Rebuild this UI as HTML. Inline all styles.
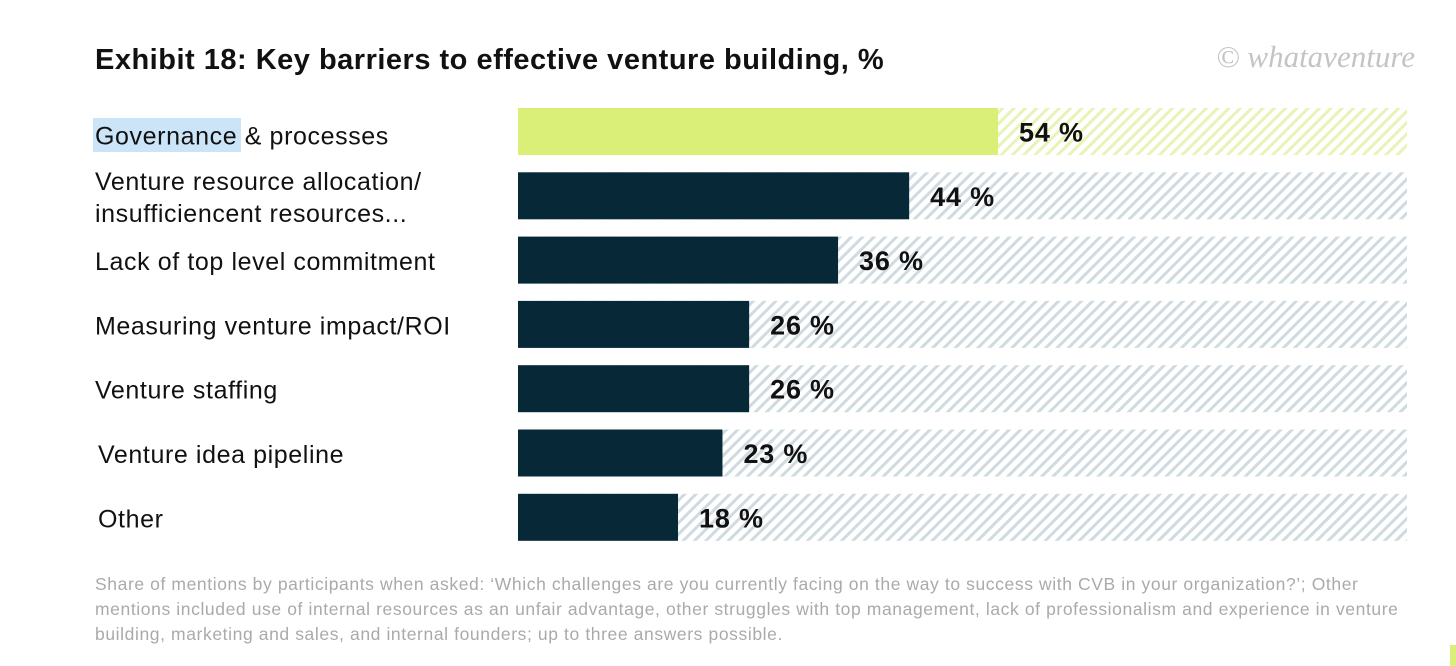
<!DOCTYPE html>
<html><head><meta charset="utf-8"><style>
html,body{margin:0;padding:0;background:#fff;}
svg{display:block;}
</style></head><body>
<svg width="1456" height="666" viewBox="0 0 1456 666" xmlns="http://www.w3.org/2000/svg">
<defs>
<pattern id="hg" patternUnits="userSpaceOnUse" width="8" height="8" patternTransform="rotate(45)">
<rect width="8" height="8" fill="#fff"/><rect width="3" height="8" fill="#e8f3b8"/></pattern>
<pattern id="hb" patternUnits="userSpaceOnUse" width="8" height="8" patternTransform="rotate(45)">
<rect width="8" height="8" fill="#fff"/><rect width="3" height="8" fill="#cfdbe0"/></pattern>
</defs>
<text x="95" y="69" font-family="Liberation Sans, sans-serif" font-size="29" font-weight="bold" letter-spacing="0.5" fill="#111">Exhibit 18: Key barriers to effective venture building, %</text>
<text x="1415" y="67" text-anchor="end" font-family="Liberation Serif, serif" font-style="italic" font-size="31" fill="#c4c4c4">© whataventure</text>
<rect x="93" y="118" width="148" height="34" fill="#cce4f7"/>
<g id="bars"></g>
<g font-family="Liberation Sans, sans-serif" font-size="17.5" letter-spacing="0.6" fill="#aaaaaa">
<text x="95" y="590">Share of mentions by participants when asked: ‘Which challenges are you currently facing on the way to success with CVB in your organization?’; Other</text>
<text x="95" y="615">mentions included use of internal resources as an unfair advantage, other struggles with top management, lack of professionalism and experience in venture</text>
<text x="95" y="640">building, marketing and sales, and internal founders; up to three answers possible.</text>
</g>
<rect x="1450" y="645" width="6" height="21" fill="#d9ef77"/>
</svg>
<script>
const categories = [["Governance & processes"],["Venture resource allocation/","insufficiencent resources..."],["Lack of top level commitment"],["Measuring venture impact/ROI"],["Venture staffing"],["Venture idea pipeline"],["Other"]];
const values = [54,44,36,26,26,23,18];
const valueLabels = ["54 %","44 %","36 %","26 %","26 %","23 %","18 %"];

const NS="http://www.w3.org/2000/svg";
const g=document.getElementById('bars');
const x0=518, xw=889, yTop=108, step=64.3, bh=47;
const xScale=v=>x0+v/100*xw;
const yScale=i=>yTop+i*step;
function mk(tag,attrs){const e=document.createElementNS(NS,tag);for(const k in attrs)e.setAttribute(k,attrs[k]);g.appendChild(e);return e;}
values.forEach((v,i)=>{
  const y=yScale(i), hl=i===0;
  const bg=mk('rect',{x:x0,y:y,width:xw,height:bh,fill:hl?'url(#hg)':'url(#hb)'});
  
  
  const b=mk('rect',{x:x0,y:y,width:xScale(v)-x0,height:bh,fill:hl?'#d9ef77':'#062837'});
  
  
  const t=mk('text',{x:xScale(v)+21,y:y+bh/2+10,'font-family':'Liberation Sans, sans-serif','font-size':'27','font-weight':'bold','letter-spacing':'0.8',fill:'#111'});
  t.textContent=valueLabels[i];
  
  
  const lines=categories[i];
  const lx=(i>=5)?98:95;
  lines.forEach((ln,j)=>{
    const cy=y+bh/2+(lines.length>1?(j===0?-15:17):(i===0?4:1));
    const c=mk('text',{x:lx,y:cy+9,'font-family':'Liberation Sans, sans-serif','font-size':'25','letter-spacing':'0.6',fill:'#111'});
    c.textContent=ln;
    
    
  });
});
</script>
</body></html>
